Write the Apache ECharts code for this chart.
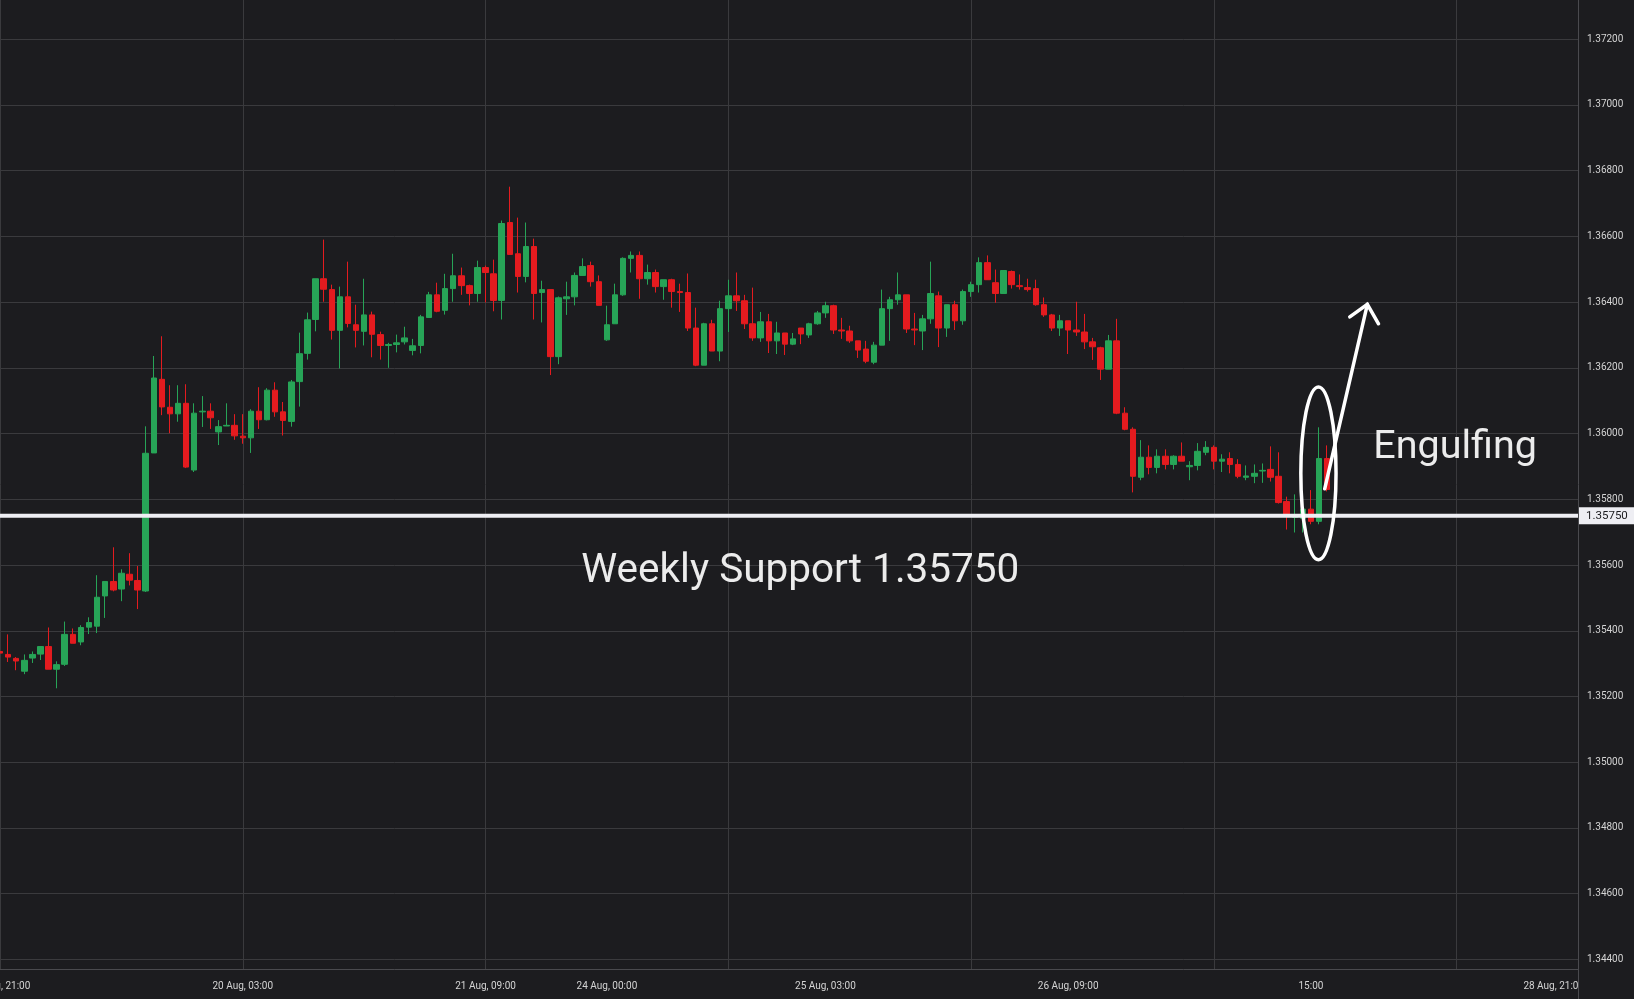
<!DOCTYPE html>
<html>
<head>
<meta charset="utf-8">
<script src="https://cdn.jsdelivr.net/npm/echarts@6/dist/echarts.min.js"></script>
<style>
html,body{margin:0;padding:0;background:#1c1c1f;overflow:hidden;}
#c{width:1634px;height:999px;}
</style>
</head>
<body>
<div id="c"></div>
<script>
// ---- data (hourly candles) ----
const opens = [
1.35337,1.35328,1.35316,1.35277,1.35317,1.35329,1.35352,1.35283,1.35298,1.35389,
1.35366,1.35411,1.35414,1.35506,1.3555,1.35527,1.35572,1.35553,1.35521,1.35941,
1.36165,1.3608,1.3606,1.36092,1.35889,1.36066,1.36068,1.36005,1.36023,1.36025,
1.35992,1.35987,1.36068,1.36042,1.36132,1.36066,1.36037,1.36158,1.36244,1.36347,
1.36471,1.36438,1.36314,1.36416,1.36331,1.36311,1.36361,1.36301,1.36268,1.36271,
1.36279,1.36253,1.36268,1.36353,1.36422,1.36375,1.36441,1.3648,1.3645,1.36426,
1.36505,1.36486,1.36405,1.36642,1.36547,1.36478,1.36569,1.36429,1.36438,1.36234,
1.3641,1.36416,1.36481,1.36511,1.36462,1.36285,1.36334,1.36422,1.36533,1.36542,
1.36471,1.3649,1.36447,1.36468,1.36432,1.36429,1.36321,1.36208,1.36334,1.36251,
1.3638,1.36419,1.36404,1.36334,1.36291,1.3634,1.36282,1.36306,1.36272,1.36321,
1.363,1.36334,1.36367,1.36389,1.36315,1.36312,1.36282,1.36257,1.36217,1.36269,
1.3638,1.36407,1.36422,1.36318,1.36312,1.36349,1.36419,1.36321,1.36392,1.36343,
1.36432,1.36453,1.3652,1.36459,1.36426,1.36493,1.3645,1.36444,1.36441,1.36392,
1.36361,1.36321,1.36343,1.36315,1.36309,1.36279,1.36261,1.36196,1.36282,1.36062,
1.36013,1.35867,1.35928,1.35897,1.35931,1.35906,1.35931,1.35899,1.35903,1.35943,
1.35958,1.35916,1.35924,1.35906,1.35867,1.3587,1.35886,1.35891,1.3587,1.35793,
1.35745,1.35742,1.3577,1.35733,1.35924
];
const closes = [
1.35332,1.3532,1.35308,1.3531,1.35328,1.35352,1.35283,1.35297,1.35389,1.35362,
1.3541,1.35425,1.35502,1.3555,1.35524,1.35575,1.35554,1.35524,1.3594,1.36169,
1.36081,1.3606,1.36092,1.35898,1.36062,1.36068,1.36048,1.36021,1.36025,1.35993,
1.35987,1.36068,1.36042,1.36132,1.36066,1.3604,1.36157,1.36243,1.36346,1.36471,
1.36439,1.36314,1.36416,1.36335,1.36314,1.36361,1.36302,1.36268,1.36271,1.36276,
1.36291,1.36267,1.36355,1.36422,1.36372,1.36441,1.3648,1.3645,1.36426,1.36505,
1.3649,1.36405,1.36639,1.36545,1.36478,1.36569,1.36426,1.36438,1.36234,1.36413,
1.36416,1.36481,1.36508,1.36462,1.3639,1.36331,1.36422,1.36533,1.36542,1.36471,
1.3649,1.36447,1.36468,1.36432,1.36429,1.36321,1.36208,1.36334,1.36251,1.3638,
1.36419,1.36404,1.36334,1.36291,1.3634,1.36282,1.36306,1.36272,1.36288,1.36303,
1.36334,1.36367,1.36389,1.36315,1.36312,1.36282,1.36254,1.3622,1.36269,1.3638,
1.36407,1.36422,1.36318,1.36315,1.36349,1.36426,1.36321,1.36392,1.36343,1.36432,
1.36453,1.3652,1.36468,1.36426,1.36496,1.36453,1.36447,1.36438,1.36392,1.36361,
1.36321,1.36343,1.36315,1.36309,1.36279,1.36264,1.36196,1.36282,1.36062,1.36013,
1.3587,1.35928,1.35897,1.35931,1.35906,1.35931,1.35916,1.35903,1.35946,1.35958,
1.35916,1.35922,1.35906,1.3587,1.35871,1.35879,1.35888,1.35867,1.3579,1.35754,
1.35752,1.3577,1.35733,1.35924,1.3583
];
const lows = [
1.35328,1.35305,1.3528,1.35268,1.35302,1.35311,1.35283,1.35225,1.35293,1.35362,
1.35356,1.3539,1.35393,1.35439,1.3552,1.3549,1.35538,1.35466,1.35518,1.35941,
1.36056,1.36001,1.36036,1.35895,1.35883,1.3602,1.36014,1.35965,1.36023,1.35981,
1.35969,1.35941,1.36014,1.3604,1.36051,1.35994,1.36021,1.36082,1.36225,1.36311,
1.36401,1.36286,1.36198,1.36323,1.36262,1.36268,1.36232,1.36225,1.362,1.36247,
1.36271,1.36238,1.36244,1.36353,1.36369,1.36362,1.36401,1.36422,1.3639,1.36401,
1.36399,1.36372,1.36347,1.36545,1.36429,1.3646,1.36347,1.36338,1.36178,1.36211,
1.36361,1.3639,1.36481,1.36447,1.3639,1.36282,1.36334,1.36419,1.3649,1.3641,
1.36453,1.36429,1.36407,1.36383,1.3637,1.36312,1.36205,1.36208,1.36251,1.3622,
1.36309,1.36373,1.36318,1.36282,1.36279,1.36245,1.36242,1.36239,1.36269,1.36272,
1.36291,1.36331,1.36352,1.36303,1.36288,1.36276,1.3623,1.36214,1.36211,1.36269,
1.36282,1.36392,1.36306,1.36269,1.36254,1.36334,1.36263,1.36294,1.36315,1.36331,
1.36416,1.36429,1.36468,1.36398,1.36426,1.36441,1.36438,1.36432,1.36389,1.36355,
1.36312,1.36297,1.36242,1.36297,1.36257,1.36224,1.36163,1.36196,1.36059,1.3601,
1.35821,1.35858,1.35876,1.35879,1.35891,1.35891,1.35916,1.35858,1.35888,1.35934,
1.35891,1.35883,1.35879,1.35864,1.35858,1.35849,1.3585,1.35854,1.35787,1.35708,
1.35699,1.35699,1.35724,1.35724,1.35824
];
const highs = [
1.35341,1.35389,1.3532,1.35328,1.35337,1.35352,1.3541,1.35307,1.35428,1.35407,
1.35417,1.35441,1.35569,1.3555,1.35654,1.35587,1.35636,1.35597,1.36022,1.36236,
1.36296,1.36147,1.36147,1.3615,1.36092,1.36114,1.36092,1.36041,1.36092,1.36059,
1.36059,1.36074,1.36141,1.36138,1.36156,1.36096,1.36163,1.36307,1.36368,1.36471,
1.3659,1.36453,1.36447,1.36523,1.36392,1.36471,1.36371,1.3631,1.36276,1.36301,
1.36325,1.36288,1.36361,1.36431,1.36459,1.36486,1.36547,1.36505,1.36453,1.36526,
1.36511,1.36529,1.36648,1.36751,1.36657,1.36642,1.36593,1.36465,1.36438,1.36417,
1.36462,1.3649,1.36533,1.36523,1.36481,1.36389,1.36456,1.36536,1.36554,1.36554,
1.36514,1.36499,1.36468,1.36471,1.36456,1.36487,1.36383,1.36337,1.36346,1.36404,
1.36468,1.3649,1.36422,1.36444,1.3637,1.36364,1.3634,1.36306,1.36306,1.36321,
1.36337,1.36373,1.36401,1.36392,1.36352,1.36328,1.36282,1.36282,1.36279,1.36438,
1.36416,1.3649,1.36422,1.36367,1.36361,1.36523,1.36432,1.36392,1.36404,1.36438,
1.36462,1.36536,1.36542,1.36499,1.36496,1.36496,1.36484,1.36471,1.36468,1.36414,
1.36364,1.36361,1.36343,1.36401,1.36364,1.36291,1.36264,1.363,1.36349,1.3608,
1.36019,1.3598,1.35964,1.35952,1.35952,1.35934,1.35973,1.35916,1.35971,1.35977,
1.35964,1.35937,1.35943,1.35922,1.35903,1.35906,1.35909,1.35961,1.35943,1.35808,
1.35815,1.35772,1.35828,1.36019,1.35964
];
// hourly slots on the axis (candles + empty future slots)
const slotCount = 196;
// x tick labels (slot index -> text)
const tickIndex = [0, 30, 60, 75, 102, 132, 162, 192];
const tickText = ['18 Aug, 21:00', '20 Aug, 03:00', '21 Aug, 09:00', '24 Aug, 00:00',
                  '25 Aug, 03:00', '26 Aug, 09:00', '15:00', '28 Aug, 21:00'];
const gridEvery = 30;
// price axis
const priceMin = 1.34371;
const priceMax = 1.37319;
const supportLevel = 1.3575;
const supportText = 'Weekly Support 1.35750';
const patternText = 'Engulfing';
// annotation anchors in data units [slot, price]
const supportTextAt = [98.9, 1.3558];
const patternTextAt = [169.7, 1.35955];
const ellipseBox = {left: 160.75, right: 165.1, top: 1.36142, bottom: 1.35616};
const arrowShaft = [[163.7, 1.35832], [168.97, 1.36393]];
const arrowHead = [[166.8, 1.36355], [168.97, 1.36393], [170.35, 1.36334]];

// ---- build ----
const categories = Array.from({length: slotCount}, (_, i) => String(i));
const candleData = opens.map((o, i) => [o, closes[i], lows[i], highs[i]]);
const supportData = categories.map(() => supportLevel);
const labelMap = new Map(tickIndex.map((k, i) => [k, tickText[i]]));

const BG = '#1c1c1f';
const GRID = '#3a3a3d';
const AXIS = '#4a4a4e';
const UP = '#27a457';
const DOWN = '#e41b1f';
const SUP = '#eeeef3';

const chart = echarts.init(document.getElementById('c'), null, {renderer: 'canvas'});
const option = {
  backgroundColor: BG,
  animation: false,
  grid: {left: 0, right: 56, top: 0, bottom: 30, containLabel: false, outerBoundsMode: 'none'},
  xAxis: {
    type: 'category',
    data: categories,
    boundaryGap: false,
    axisLine: {show: true, lineStyle: {color: AXIS, width: 1}},
    axisTick: {show: false},
    axisLabel: {
      interval: (i) => labelMap.has(i),
      formatter: (v, i) => labelMap.get(i) || '',
      color: '#d4d4d4', fontFamily: 'Roboto', fontSize: 10, margin: 12
    },
    splitLine: {show: true, interval: (i) => i % gridEvery === 0, lineStyle: {color: GRID, width: 1}}
  },
  yAxis: {
    type: 'value',
    position: 'right',
    min: priceMin,
    max: priceMax,
    splitNumber: 15,
    scale: true,
    axisLine: {show: true, lineStyle: {color: AXIS, width: 1}},
    axisTick: {show: false},
    axisLabel: {
      formatter: (v) => v.toFixed(5),
      color: '#d4d4d4', fontFamily: 'Roboto', fontSize: 10, margin: 9,
      showMinLabel: false, showMaxLabel: false
    },
    splitLine: {show: true, showMinLine: false, showMaxLine: false, lineStyle: {color: GRID, width: 1}}
  },
  series: [{
    type: 'candlestick',
    data: candleData,
    barWidth: 6,
    clip: true,
    z: 2,
    itemStyle: {color: UP, color0: DOWN, borderColor: UP, borderColor0: DOWN, borderWidth: 1}
  }, {
    type: 'line',
    data: supportData,
    symbol: 'none',
    silent: true,
    clip: false,
    z: 3,
    lineStyle: {color: SUP, width: 4, type: 'solid'},
    endLabel: {
      show: true, formatter: () => supportLevel.toFixed(5),
      backgroundColor: SUP, color: '#1c1c1f', fontFamily: 'Roboto', fontSize: 11.5,
      padding: [3, 10, 2, 7], distance: 1
    }
  }]
};
chart.setOption(option);

// annotations placed through the chart's own scales
function toPx(pt) {
  const a = chart.convertToPixel({gridIndex: 0}, [0, pt[1]]);
  const b = chart.convertToPixel({gridIndex: 0}, [1, pt[1]]);
  return [a[0] + pt[0] * (b[0] - a[0]), a[1]];
}
const eL = toPx([ellipseBox.left, ellipseBox.top]);
const eR = toPx([ellipseBox.right, ellipseBox.bottom]);
const edgeX = toPx([slotCount - 1, priceMin])[0];
const bottomY = toPx([0, priceMin])[1];
const st = toPx(supportTextAt);
const pt = toPx(patternTextAt);

chart.setOption({
  graphic: [
    {type: 'rect', z: 100, shape: {x: edgeX + 1, y: bottomY + 1, width: 1634 - edgeX, height: 999 - bottomY}, style: {fill: BG}},
    {type: 'line', z: 101, shape: {x1: edgeX + 0.5, y1: bottomY, x2: edgeX + 0.5, y2: 999}, style: {stroke: AXIS, lineWidth: 1}},
    {type: 'ellipse', z: 110, shape: {cx: (eL[0] + eR[0]) / 2, cy: (eL[1] + eR[1]) / 2, rx: (eR[0] - eL[0]) / 2, ry: (eR[1] - eL[1]) / 2},
     style: {fill: null, stroke: '#ffffff', lineWidth: 3.5}},
    {type: 'polyline', z: 110, shape: {points: arrowShaft.map(toPx)}, style: {fill: null, stroke: '#ffffff', lineWidth: 3.5, lineCap: 'round'}},
    {type: 'polyline', z: 110, shape: {points: arrowHead.map(toPx)}, style: {fill: null, stroke: '#ffffff', lineWidth: 3.5, lineCap: 'round', lineJoin: 'miter'}},
    {type: 'text', z: 110, x: st[0], y: st[1],
     style: {text: supportText, fill: '#ececec', fontFamily: 'Roboto', fontSize: 40.5, textAlign: 'center', textVerticalAlign: 'middle'}},
    {type: 'text', z: 110, x: pt[0], y: pt[1],
     style: {text: patternText, fill: '#ececec', fontFamily: 'Roboto', fontSize: 39.5, textAlign: 'left', textVerticalAlign: 'middle'}}
  ]
});
</script>
</body>
</html>
